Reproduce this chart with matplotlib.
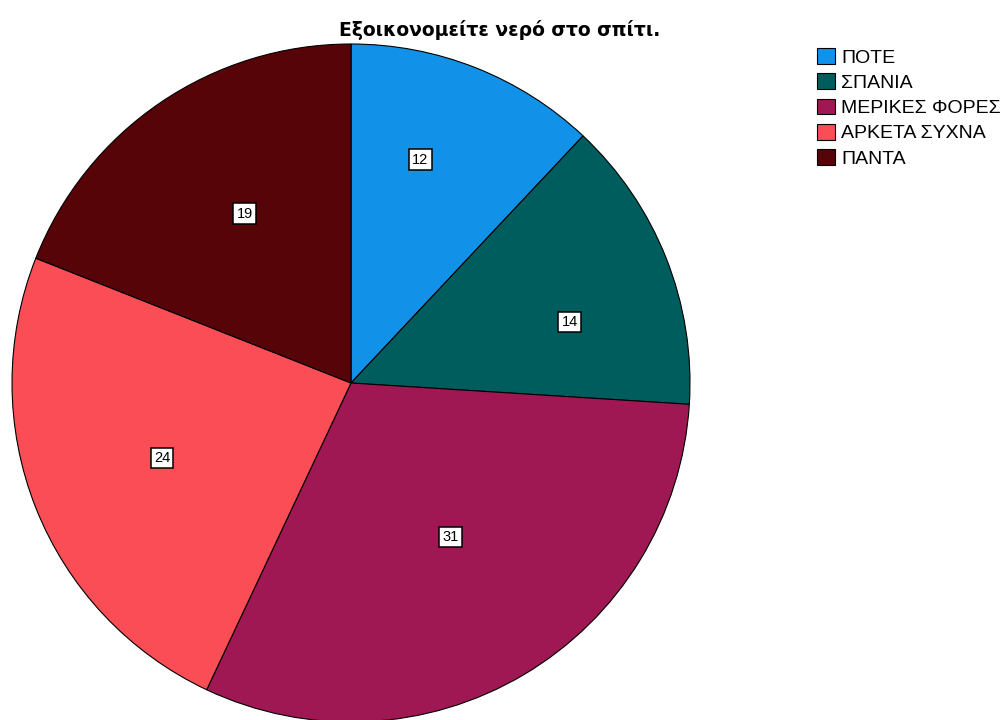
import matplotlib.pyplot as plt
import numpy as np

plt.rcParams['font.family'] = ['Liberation Sans', 'DejaVu Sans']

categories = ["ΠΟΤΕ", "ΣΠΑΝΙΑ", "ΜΕΡΙΚΕΣ ΦΟΡΕΣ", "ΑΡΚΕΤΑ ΣΥΧΝΑ", "ΠΑΝΤΑ"]
counts = [12, 14, 31, 24, 19]
colors = ["#1192e8", "#005d5d", "#9f1853", "#fa4d56", "#570408"]

fig = plt.figure(figsize=(10.03, 7.2), dpi=100)
W, H = 1003, 720
cx, cy, r = 351, 383, 339
ax = fig.add_axes([(cx - r) / W, (H - cy - r) / H, 2 * r / W, 2 * r / H])

wedges, _ = ax.pie(counts, colors=colors, startangle=90, counterclock=False,
                   radius=1, wedgeprops=dict(edgecolor="black", linewidth=0.8))
ax.set_xlim(-1, 1)
ax.set_ylim(-1, 1)
ax.set_aspect("equal")
ax.axis("off")

# where the count box sits inside each slice (share of the sweep from its start, radius)
label_frac = [0.40, 0.62, 0.48, 0.5, 0.53]
label_dist = [0.69, 0.67, 0.54, 0.6, 0.59]
for w, n, f, d in zip(wedges, counts, label_frac, label_dist):
    ang = np.deg2rad(w.theta2 - f * (w.theta2 - w.theta1))
    ax.text(d * np.cos(ang), d * np.sin(ang), str(n), ha="center", va="center",
            fontsize=10.5, bbox=dict(facecolor="white", edgecolor="black",
                                     linewidth=1.1, boxstyle="square,pad=0.22"))

fig.text(500 / W, 1 - 30 / H, "Εξοικονομείτε νερό στο σπίτι.", ha="center",
         va="center", fontsize=13.5, fontweight="bold", family="DejaVu Sans")

fig.legend(wedges, categories, loc="upper left", bbox_to_anchor=(817 / W, 1 - 48 / H),
           frameon=False, fontsize=14, handlelength=0.93, handleheight=0.88,
           handletextpad=0.3, labelspacing=0.34, borderaxespad=0, borderpad=0)

fig.savefig("out.png", dpi=100)
